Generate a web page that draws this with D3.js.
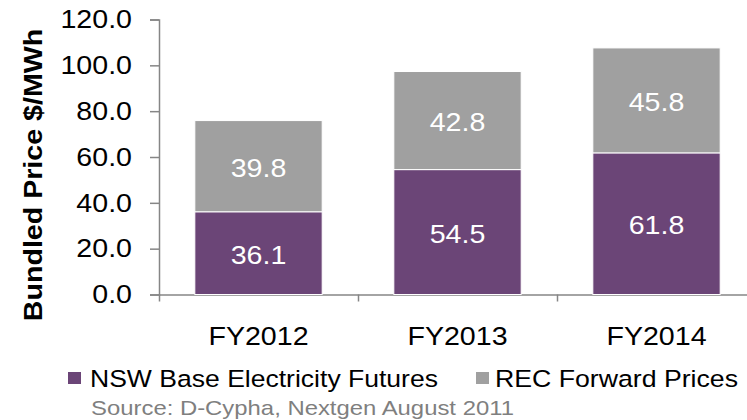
<!DOCTYPE html>
<html>
<head>
<meta charset="utf-8">
<script src="https://cdn.jsdelivr.net/npm/d3@7"></script>
<style>
body { margin: 0; background: #fff; }
svg { display: block; font-family: "Liberation Sans", Arial, sans-serif; }
.axis path, .axis line { stroke: #868686; stroke-width: 1.5; }
.axis text { fill: #000; font-size: 26px; font-family: "Liberation Sans", Arial, sans-serif; }
</style>
</head>
<body>
<svg></svg>
<script>
// chart data
var categories = ["FY2012", "FY2013", "FY2014"]
var nswFutures = [36.1, 54.5, 61.8]
var recForward = [39.8, 42.8, 45.8]
var seriesNames = ["NSW Base Electricity Futures", "REC Forward Prices"]
var yTicks = [0, 20, 40, 60, 80, 100, 120]

var colors = ["#6B4577", "#A0A0A0"]

var screen = {width: 747, height: 420}
var margins = {left: 159, top: 19.5, right: -9, bottom: 125.5}

var graph = {
    width: screen.width - margins.left - margins.right,
    height: screen.height - margins.top - margins.bottom
}

var svg = d3.select("svg")
    .attr("width", screen.width)
    .attr("height", screen.height)

var target = svg.append("g")
    .attr("transform", "translate(" + margins.left + "," + margins.top + ")")

var xScale = d3.scaleBand()
    .domain(categories)
    .range([0, graph.width])
    .paddingInner(0.36)
    .paddingOuter(0.18)

// edges of the category slots, for the x tick marks
var xEdge = d3.scaleLinear()
    .domain([0, categories.length])
    .range([0, graph.width])

var yScale = d3.scaleLinear()
    .domain([0, 120])
    .range([graph.height, 0])

// stack the two series
var rows = categories.map(function(c, i) {
    return {cat: c, nsw: nswFutures[i], rec: recForward[i]}
})
var stacked = d3.stack().keys(["nsw", "rec"])(rows)

// y axis
target.append("g")
    .classed("axis", true)
    .call(d3.axisLeft(yScale)
        .tickValues(yTicks)
        .tickSize(9)
        .tickSizeOuter(9)
        .tickPadding(18)
        .tickFormat(d3.format(".1f")))

// x axis
target.append("g")
    .classed("axis", true)
    .attr("transform", "translate(0," + graph.height + ")")
    .call(d3.axisBottom(xEdge)
        .tickValues(d3.range(categories.length + 1))
        .tickSize(7)
        .tickSizeOuter(0)
        .tickFormat(""))

target.selectAll(".catLabel")
    .data(categories)
    .enter()
    .append("text")
    .classed("catLabel", true)
    .text(function(d) { return d })
    .attr("x", function(d) { return xScale(d) + xScale.bandwidth() / 2 })
    .attr("y", graph.height + 50.5)
    .attr("text-anchor", "middle")
    .attr("font-size", 26)

// bars
var layers = target.selectAll(".layer")
    .data(stacked)
    .enter()
    .append("g")
    .classed("layer", true)
    .attr("fill", function(d, i) { return colors[i] })

layers.selectAll("rect")
    .data(function(d) { return d })
    .enter()
    .append("rect")
    .attr("x", function(d) { return xScale(d.data.cat) })
    .attr("y", function(d) { return yScale(d[1]) })
    .attr("width", xScale.bandwidth())
    .attr("height", function(d) { return yScale(d[0]) - yScale(d[1]) })
    .attr("stroke", "#fff")
    .attr("stroke-width", 1)

layers.selectAll("text")
    .data(function(d) { return d })
    .enter()
    .append("text")
    .text(function(d) { return d3.format(".1f")(d[1] - d[0]) })
    .attr("x", function(d) { return xScale(d.data.cat) + xScale.bandwidth() / 2 })
    .attr("y", function(d) { return (yScale(d[0]) + yScale(d[1])) / 2 + 10.5 })
    .attr("text-anchor", "middle")
    .attr("font-size", 26)
    .attr("fill", "#fff")

// y label
svg.append("text")
    .text("Bundled Price $/MWh")
    .attr("transform", "translate(42,175) rotate(-90)")
    .attr("text-anchor", "middle")
    .attr("font-size", 26)
    .attr("font-weight", "bold")

// the original text runs a bit wider than Liberation Sans, stretch it
svg.selectAll("text").each(function() {
    var len = this.getComputedTextLength()
    d3.select(this)
        .attr("textLength", len * 1.1)
        .attr("lengthAdjust", "spacingAndGlyphs")
})

// legend
var legendItems = [
    {name: seriesNames[0], color: colors[0], x: 68, len: 348},
    {name: seriesNames[1], color: colors[1], x: 476, len: 243}
]
var legend = svg.append("g").classed("legend", true)
var entries = legend.selectAll("g")
    .data(legendItems)
    .enter()
    .append("g")
    .attr("transform", function(d) { return "translate(" + d.x + ",372)" })
entries.append("rect")
    .attr("width", 13)
    .attr("height", 12)
    .attr("fill", function(d) { return d.color })
entries.append("text")
    .text(function(d) { return d.name })
    .attr("x", function(d, i) { return i == 0 ? 22 : 19 })
    .attr("y", 14.7)
    .attr("font-size", 24.5)
    .attr("textLength", function(d) { return d.len })
    .attr("lengthAdjust", "spacingAndGlyphs")

svg.append("text")
    .text("Source: D-Cypha, Nextgen August 2011")
    .attr("x", 91)
    .attr("y", 415)
    .attr("font-size", 21)
    .attr("fill", "#7F7F7F")
    .attr("textLength", 423)
    .attr("lengthAdjust", "spacingAndGlyphs")
</script>
</body>
</html>
